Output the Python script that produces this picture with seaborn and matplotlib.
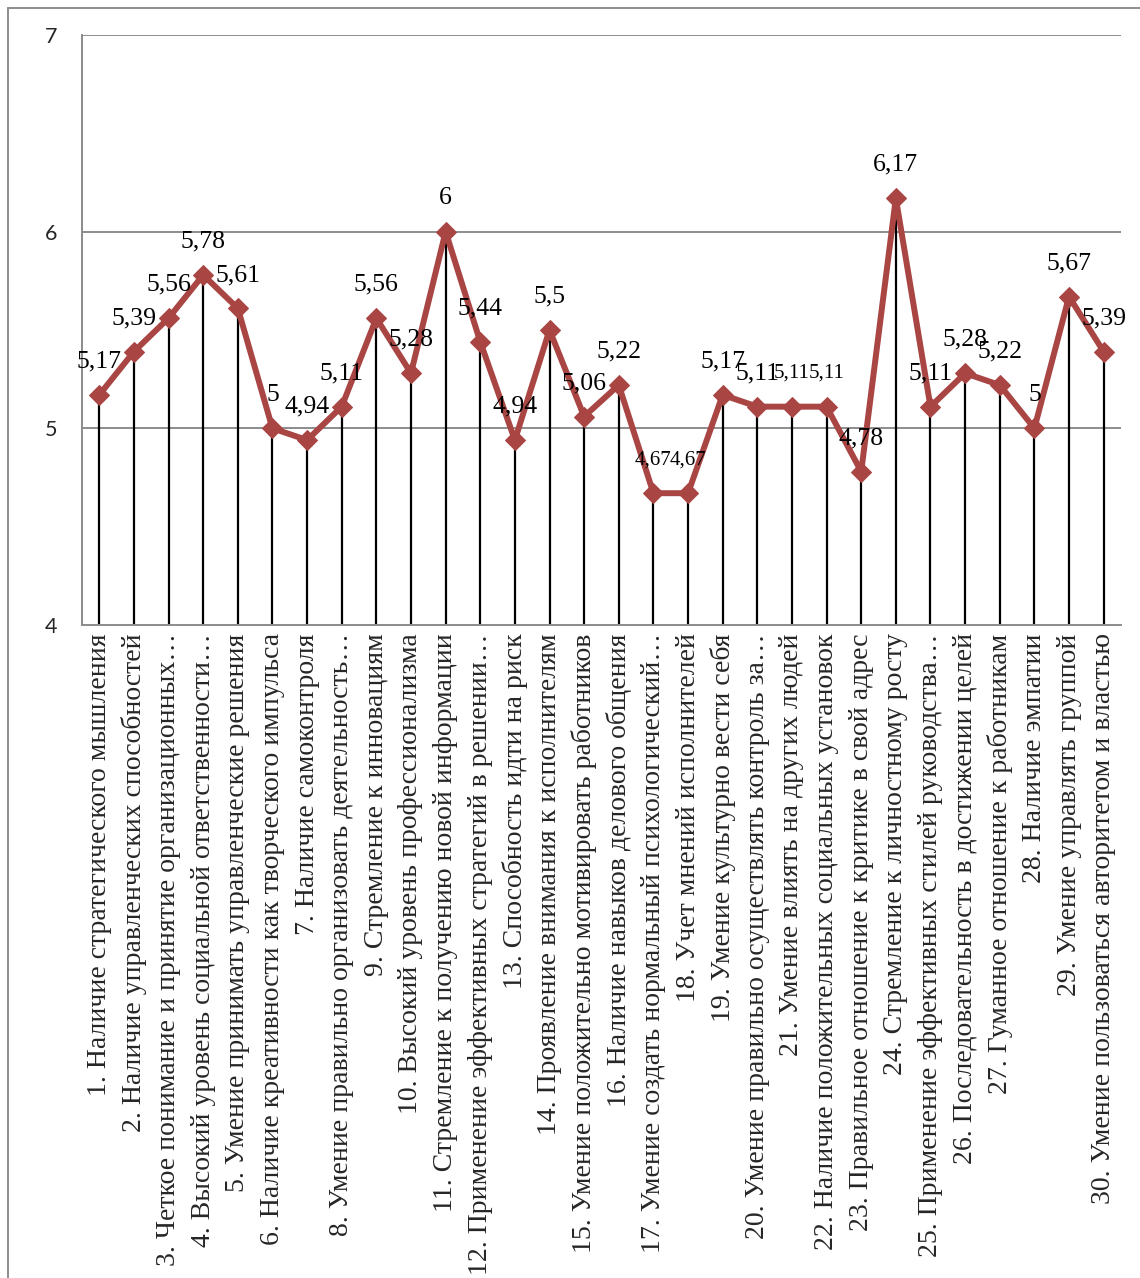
import matplotlib
matplotlib.use("Agg")
import matplotlib.pyplot as plt
from matplotlib.lines import Line2D
import seaborn as sns
import pandas as pd

categories = [
    "1. Наличие стратегического мышления",
    "2. Наличие управленческих способностей",
    "3. Четкое понимание и принятие организационных…",
    "4. Высокий уровень социальной ответственности…",
    "5. Умение принимать управленческие решения",
    "6. Наличие креативности как творческого импульса",
    "7. Наличие самоконтроля",
    "8. Умение правильно организовать деятельность…",
    "9. Стремление к инновациям",
    "10. Высокий уровень профессионализма",
    "11. Стремление к получению новой информации",
    "12. Применение эффективных стратегий в решении…",
    "13. Способность идти на риск",
    "14. Проявление внимания к исполнителям",
    "15. Умение положительно мотивировать работников",
    "16. Наличие навыков делового общения",
    "17. Умение создать нормальный психологический…",
    "18. Учет мнений исполнителей",
    "19. Умение культурно вести себя",
    "20. Умение правильно осуществлять контроль за…",
    "21. Умение влиять на других людей",
    "22. Наличие положительных социальных установок",
    "23. Правильное отношение к критике в свой адрес",
    "24. Стремление к личностному росту",
    "25. Применение эффективных стилей руководства…",
    "26. Последовательность в достижении целей",
    "27. Гуманное отношение к работникам",
    "28. Наличие эмпатии",
    "29. Умение управлять группой",
    "30. Умение пользоваться авторитетом и властью",
]

scores = [5.17, 5.39, 5.56, 5.78, 5.61, 5.0, 4.94, 5.11, 5.56, 5.28,
          6.0, 5.44, 4.94, 5.5, 5.06, 5.22, 4.67, 4.67, 5.17, 5.11,
          5.11, 5.11, 4.78, 6.17, 5.11, 5.28, 5.22, 5.0, 5.67, 5.39]

y_ticks = [4, 5, 6, 7]

# Data labels that Excel shrank to fit beside their neighbours
small_label_idx = {16, 17, 20, 21}

sns.set_theme(style="white")
plt.rcParams["font.family"] = ["Liberation Serif", "DejaVu Serif"]

df = pd.DataFrame({"pos": range(len(categories)), "score": scores})

fig = plt.figure(figsize=(11.4, 12.78), dpi=100)
ax = fig.add_axes([0.0719, 0.5110, 0.9833 - 0.0719, 0.9726 - 0.5110])

line_color = "#A94644"
grid_color = "#8C8C8C"

# drop lines from each point to the axis floor
ax.vlines(df["pos"], y_ticks[0], df["score"], color="black", lw=1.6, zorder=2)

sns.lineplot(data=df, x="pos", y="score", ax=ax, color=line_color, lw=4.3,
             marker="D", markersize=10, markeredgecolor=line_color,
             markerfacecolor=line_color, zorder=3)

for i, v in enumerate(scores):
    txt = f"{v:g}".replace(".", ",")
    size = 15 if i in small_label_idx else 18.5
    ax.annotate(txt, (i, v), xytext=(0, 24), textcoords="offset points",
                ha="center", va="center", fontsize=size, color="black",
                family=["Liberation Serif", "DejaVu Serif"], zorder=5)

ax.set_xlim(-0.5, len(categories) - 0.5)
ax.set_ylim(y_ticks[0], y_ticks[-1])
ax.set_yticks(y_ticks)
ax.set_yticklabels([str(t) for t in y_ticks], family=["Lato", "DejaVu Sans"],
                   fontsize=15.5)
ax.set_xticks(list(df["pos"]))
ax.set_xticklabels(categories, rotation=90, fontsize=20, va="top", ha="center",
                   family=["Liberation Serif", "DejaVu Serif"])
ax.tick_params(axis="x", length=0, pad=6)
ax.tick_params(axis="y", length=0, pad=18)
ax.set_xlabel("")
ax.set_ylabel("")

ax.grid(False)
for t in y_ticks[1:]:
    ax.axhline(t, color=grid_color, lw=1.4, zorder=1)

for side in ("top", "right"):
    ax.spines[side].set_visible(False)
ax.spines["left"].set_color(grid_color)
ax.spines["left"].set_linewidth(1.4)
ax.spines["bottom"].set_color(grid_color)
ax.spines["bottom"].set_linewidth(1.4)

# outer chart-area border (left and top edges)
W, H = 1140, 1278
fig.add_artist(Line2D([8 / W, 8 / W], [0, 1 - 8 / H], color=grid_color,
                      lw=1.4, transform=fig.transFigure))
fig.add_artist(Line2D([8 / W, 1], [1 - 8 / H, 1 - 8 / H], color=grid_color,
                      lw=1.4, transform=fig.transFigure))

fig.savefig("out.png", dpi=100, facecolor="white")
